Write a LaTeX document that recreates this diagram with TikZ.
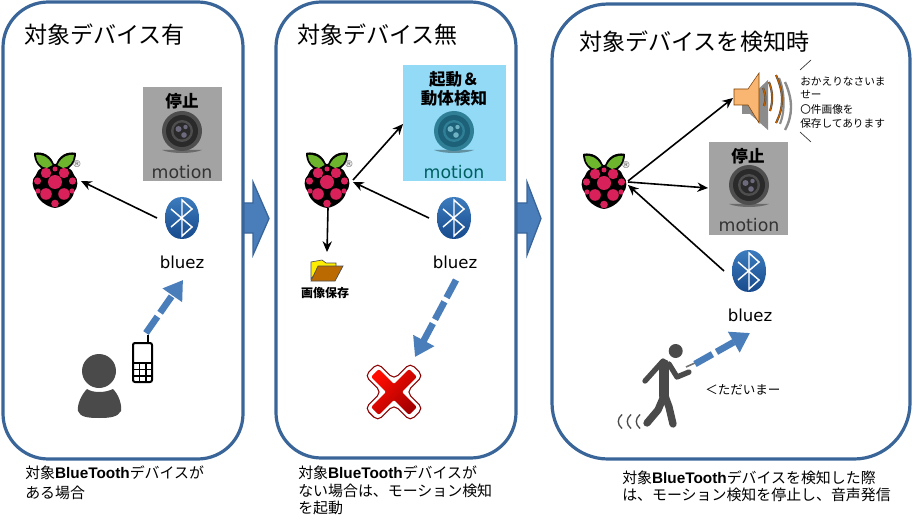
\documentclass[tikz,border=0pt]{standalone}
\usepackage{fontspec}
\setmainfont{DejaVu Sans}
\newfontfamily\cjk{Noto Sans CJK JP}
\newfontfamily\lat{Liberation Sans}
\usetikzlibrary{arrows.meta,shadings}
\definecolor{panelc}{HTML}{3A6599}
\definecolor{arrowc}{HTML}{4A7EBB}
\definecolor{grayc}{HTML}{A3A3A3}
\definecolor{skyc}{HTML}{92DAF6}
\definecolor{darkc}{HTML}{4A4A4A}
\definecolor{leafc}{HTML}{6DB52D}
\definecolor{berryc}{HTML}{D8215A}
\definecolor{camouter}{HTML}{4E4E4E}
\definecolor{camring}{HTML}{2A2A2A}
\definecolor{camlens}{HTML}{6C6A7C}
\definecolor{tealouter}{HTML}{2F7F96}
\definecolor{tealring}{HTML}{1D6178}
\definecolor{teallens}{HTML}{6FB2C4}
\definecolor{bttop}{HTML}{3C7CBE}
\definecolor{btmid}{HTML}{2E6CB0}
\definecolor{btbot}{HTML}{174A8C}
\definecolor{speakc}{HTML}{F9B672}
\newcommand{\captx}[1]{{\cjk\fontsize{11.2pt}{14pt}\selectfont #1}}
\newcommand{\bluet}{{\lat\bfseries\fontsize{11.5pt}{14pt}\selectfont BlueTooth}}
\tikzset{
  x=0.75pt,y=-0.75pt,
  panel/.style={draw=panelc,line width=2.4pt,fill=white,rounded corners=34pt},
  title/.style={anchor=west,inner sep=0,font=\cjk\fontsize{17.3pt}{20pt}\selectfont},
  caption/.style={anchor=west,inner sep=0,align=left},
  boxtext/.style={inner sep=0,align=center,font=\cjk\bfseries\fontsize{12.4pt}{14.5pt}\selectfont},
  motionlabel/.style={inner sep=0,font=\fontsize{13pt}{15pt}\selectfont},
  bluezlabel/.style={inner sep=0,font=\fontsize{12.4pt}{15pt}\selectfont},
  signal/.style={draw=arrowc,line width=5pt,dash pattern=on 15pt off 3.5pt,-{Triangle[length=14pt,width=17pt,fill=arrowc]}},
  conn/.style={draw=black,line width=1.2pt,-{Stealth[length=8pt,width=7pt]}},
  voice/.style={anchor=west,inner sep=0,font=\cjk\fontsize{8pt}{10pt}\selectfont},
  pics/rasp/.style={code={
    \fill[black] (-1,-16) .. controls (-6,-29) and (-18,-28) .. (-21,-27) .. controls (-21,-17) and (-15,-12) .. (-10,-9) -- (10,-9) .. controls (15,-12) and (21,-17) .. (21,-27) .. controls (18,-28) and (6,-29) .. (1,-16) -- cycle;
    \fill[black] (0,-15) .. controls (12,-15) and (18,-10) .. (19,-5) .. controls (24,-1) and (23,8) .. (19,12) .. controls (18,20) and (8,27) .. (0,28) .. controls (-8,27) and (-18,20) .. (-19,12) .. controls (-23,8) and (-24,-1) .. (-19,-5) .. controls (-18,-10) and (-12,-15) .. (0,-15) -- cycle;
    \fill[leafc] (-2.5,-15) .. controls (-7,-24.5) and (-15,-26) .. (-19,-25) .. controls (-19,-18) and (-14,-12.5) .. (-8,-12) -- cycle;
    \fill[leafc] (2.5,-15) .. controls (7,-24.5) and (15,-26) .. (19,-25) .. controls (19,-18) and (14,-12.5) .. (8,-12) -- cycle;
    \foreach \cx/\cy/\cr in {-9/-7/5.2,9/-7/5.2,0/-11/2.5,-17.5/1/3.6,17.5/1/3.6,0/2/7,-9/14/5.8,9/14/5.8,-17/11/2.6,17/11/2.6,0/23.5/3.8}
      \fill[berryc] (\cx,\cy) circle (\cr);
    \node[inner sep=0,text=black!65,font=\fontsize{7pt}{8pt}\selectfont] at (22,-15.5) {®};
  }},
  pics/bt/.style={code={
    \shade[top color=bttop,middle color=btmid,bottom color=btbot] (0,-21) .. controls (12,-21) and (17,-10) .. (17,0) .. controls (17,10) and (12,21) .. (0,21) .. controls (-12,21) and (-17,10) .. (-17,0) .. controls (-17,-10) and (-12,-21) .. (0,-21) -- cycle;
    \draw[white,line width=1.1pt,line join=miter] (-11,-9) -- (10,9) -- (0,18) -- (0,-18) -- (10,-9) -- (-11,9);
  }},
  pics/cam/.style n args={3}{code={
    \fill[#2!70] (-20,19) -- (20,19) .. controls (10,23) and (-10,23) .. (-20,19) -- cycle;
    \fill[#1] (0,0) circle (20);
    \fill[#2] (0,0) circle (16);
    \fill[#1] (0,0) circle (11);
    \fill[#2] (0,0) circle (8.5);
    \fill[#3] (-3.5,-2) circle (3);
    \fill[#3] (3.5,-4) circle (2.2);
    \fill[#3] (2,4) circle (2.8);
  }},
}
\begin{document}
\begin{tikzpicture}
\useasboundingbox (0,0) rectangle (916,527);
% block arrows
\fill[arrowc] (240,203) -- (253,203) -- (253,182) -- (269,218.5) -- (253,255) -- (253,233) -- (240,233) -- cycle;
\draw[panelc,line width=1pt] (240,203) -- (253,203) -- (253,182) -- (269,218.5) -- (253,255) -- (253,233) -- (240,233);
\fill[arrowc] (513,203) -- (527,203) -- (527,182) -- (541,218.5) -- (527,255) -- (527,233) -- (513,233) -- cycle;
\draw[panelc,line width=1pt] (513,203) -- (527,203) -- (527,182) -- (541,218.5) -- (527,255) -- (527,233) -- (513,233);
% panels
\draw[panel] (3,2) rectangle (243,459);
\draw[panel] (276,2) rectangle (516,458);
\draw[panel,rounded corners=42pt] (552,4) rectangle (910,459);
% titles
\node[title] (t1) at (24,35) {対象デバイス有};
\node[title] (t2) at (297,35) {対象デバイス無};
\node[title] (t3) at (579,42) {対象デバイスを検知時};
% captions
\node[caption] (c1) at (25,482.5) {\captx{対象}\bluet\captx{デバイスが}\\[3pt]\captx{ある場合}};
\node[caption] (c2) at (298,490.5) {\captx{対象}\bluet\captx{デバイスが}\\[1pt]\captx{ない場合は、モーション検知}\\[1pt]\captx{を起動}};
\node[caption] (c3) at (622,486.5) {\captx{対象}\bluet\captx{デバイスを検知した際}\\[1pt]\captx{は、モーション検知を停止し、音声発信}};

% --- panel 1
\pic at (55,180) {rasp};
\coordinate (r1) at (81,181);
\fill[grayc] (143,87) rectangle (222,181);
\pic at (182,131) {cam={camouter}{camring}{camlens}};
\node[boxtext] (s1) at (182,101) {停止};
\node[motionlabel,text=black!80] (m1) at (182,172) {motion};
\pic at (182,218) {bt};
\coordinate (b1) at (157,218);
\node[bluezlabel] (z1) at (182,262) {bluez};
\draw[conn] (b1) -- (r1);
\fill[darkc] (99,371) circle (17);
\fill[darkc] (87,389) .. controls (93,393) and (105,393) .. (113,389) .. controls (119,395) and (122,405) .. (121,411) .. controls (118,417) and (110,418) .. (99,418) .. controls (88,418) and (80,417) .. (78,411) .. controls (77,405) and (81,395) .. (87,389) -- cycle;
\draw[black,line width=1.5pt,rounded corners=1.5pt,fill=white] (133,343) rectangle (152,382);
\draw[black,line width=1.5pt] (148,343) -- (148,335);
\draw[black,line width=1pt] (133,363) -- (152,363) (133,369.5) -- (152,369.5) (133,376) -- (152,376) (139.5,363) -- (139.5,382) (146,363) -- (146,382);
\coordinate (ph) at (146,333);
\coordinate (sig1) at (183,280);
\draw[signal] (ph) -- (sig1);

% --- panel 2
\pic at (327,180) {rasp};
\coordinate (r2a) at (353,182);
\coordinate (r2b) at (353,180);
\coordinate (r2c) at (328,208);
\fill[skyc] (403,65) rectangle (506,181);
\pic at (454,131) {cam={tealouter}{tealring}{teallens}};
\node[boxtext] (s2) at (454,89) {起動＆\\動体検知};
\node[motionlabel,text=teal!75!black] (m2) at (454,172) {motion};
\coordinate (cam2) at (403,124);
\pic at (454,218) {bt};
\coordinate (b2) at (429,218);
\node[bluezlabel] (z2) at (455,262) {bluez};
\draw[conn] (b2) -- (r2a);
\draw[conn] (r2b) -- (cam2);
\coordinate (f2) at (327,252);
\draw[conn] (r2c) -- (f2);
\fill[yellow!95!orange,draw=black!70,line width=.5pt] (311,279) -- (311,262) -- (322,260) -- (326,263) -- (336,263) -- (336,268) -- (318,270) -- cycle;
\fill[orange!70!black!90!yellow,draw=black!70,line width=.5pt] (311,281) -- (318,266) -- (343,266) -- (335,281) -- cycle;
\node[inner sep=0,font=\cjk\bfseries\fontsize{9pt}{10pt}\selectfont] (img) at (325,293) {画像保存};
\coordinate (z2s) at (456,280);
\coordinate (x2) at (415,357);
\draw[signal] (z2s) -- (x2);
\begin{scope}[shift={(394,392)},rotate=45]
  \draw[red!55!black,fill=white,line width=.8pt,rounded corners=4pt] (-9,-32) -- (9,-32) -- (9,-9) -- (32,-9) -- (32,9) -- (9,9) -- (9,32) -- (-9,32) -- (-9,9) -- (-32,9) -- (-32,-9) -- (-9,-9) -- cycle;
  \shade[top color=red!90!orange,bottom color=red!65!black,shading angle=45,rounded corners=1.5pt] (-5.5,-27) -- (5.5,-27) -- (5.5,-5.5) -- (27,-5.5) -- (27,5.5) -- (5.5,5.5) -- (5.5,27) -- (-5.5,27) -- (-5.5,5.5) -- (-27,5.5) -- (-27,-5.5) -- (-5.5,-5.5) -- cycle;
\end{scope}

% --- panel 3
\pic at (604,181) {rasp};
\coordinate (r3a) at (628,181);
\coordinate (r3b) at (628,182);
\coordinate (r3c) at (628,185);
% speaker
\fill[black!45] (742,97) rectangle (768,114);
\fill[black!45] (768,80) -- (768,130) -- (750,114) -- (750,97) -- cycle;
\fill[speakc,draw=orange!50!black,line width=.4pt] (734,89) -- (748,89) -- (759,73) -- (759,123) -- (748,105) -- (734,105) -- cycle;
\draw[black!45,line width=1.6pt] (779,78) .. controls (785,92) and (785,112) .. (780,124);
\draw[black!45,line width=1.8pt] (785,82) .. controls (793,100) and (793,115) .. (785,130);
\draw[black!70,line width=1.6pt] (763,88) .. controls (766,95) and (766,100) .. (764,106);
\draw[black!70,line width=1.6pt] (769,82) .. controls (773,92) and (773,102) .. (770,111);
\draw[black!70,line width=1.6pt] (776,75) .. controls (784,93) and (784,107) .. (776,123);
\draw[orange!75!black,line width=.9pt] (763,88) .. controls (766,95) and (766,100) .. (764,106);
\draw[orange!75!black,line width=.9pt] (769,82) .. controls (773,92) and (773,102) .. (770,111);
\draw[orange!75!black,line width=.9pt] (776,75) .. controls (784,93) and (784,107) .. (776,123);
\coordinate (spk) at (733,98);
\draw[conn] (r3a) -- (spk);
\draw[black!80,line width=.5pt] (800,70) -- (811,60) (800,132) -- (811,142);
\node[voice] (v1) at (800,81) {おかえりなさいま};
\node[voice] (v2) at (800,94) {せー};
\node[voice] (v3) at (800,109) {〇件画像を};
\node[voice] (v4) at (800,123) {保存してあります};
% camera
\fill[grayc] (709,142) rectangle (788,235);
\pic at (749,185) {cam={camouter}{camring}{camlens}};
\node[boxtext] (s3) at (748,156) {停止};
\node[motionlabel,text=black!80] (m3) at (749,225) {motion};
\coordinate (cam3) at (708,188);
\draw[conn] (r3b) -- (cam3);
\pic at (749,271) {bt};
\coordinate (b3) at (724,271);
\draw[conn] (b3) -- (r3c);
\node[bluezlabel] (z3) at (750,315) {bluez};
% walker
\fill[darkc] (675.7,351) circle (7);
\draw[darkc,line width=7.5pt,line cap=round] (664,364) -- (664,396);
\draw[darkc,line width=5.5pt,line cap=round,line join=round] (664,396) -- (658,410) -- (647,423);
\draw[darkc,line width=5.5pt,line cap=round,line join=round] (665,396) -- (669,407) -- (673,424);
\draw[darkc,line width=4pt,line cap=round,line join=round] (663,361) -- (645,381);
\draw[darkc,line width=4pt,line cap=round,line join=round] (669,364) -- (677,377) -- (689,372);
\draw[black!55,line width=1.2pt] (686,367) -- (695,363);
\draw[darkc,line width=1pt] (622,414.5) .. controls (617,419) and (617,424) .. (622,428.5);
\draw[darkc,line width=1pt] (631,414.5) .. controls (626,419) and (626,424) .. (631,428.5);
\draw[darkc,line width=1pt] (640,414.5) .. controls (635,419) and (635,424) .. (640,428.5);
\coordinate (w) at (695,364);
\coordinate (sig3) at (750,333);
\draw[signal] (w) -- (sig3);
\node[anchor=west,inner sep=0,font=\cjk\fontsize{9.4pt}{11pt}\selectfont] (tadaima) at (705,390) {＜ただいまー};
\end{tikzpicture}
\end{document}
